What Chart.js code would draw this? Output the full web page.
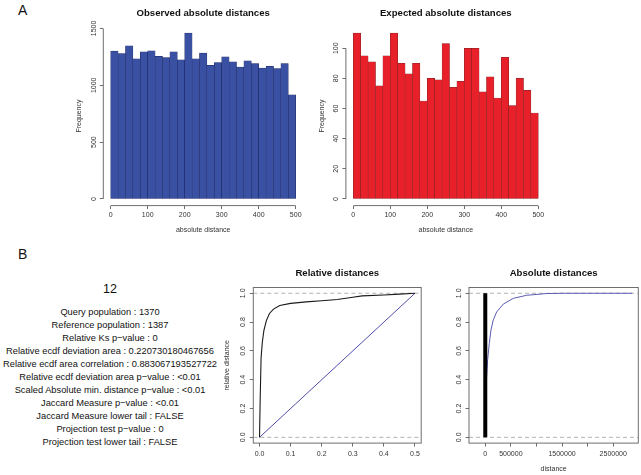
<!DOCTYPE html>
<html>
<head>
<meta charset="utf-8">
<script src="https://cdn.jsdelivr.net/npm/chart.js@4"></script>
<style>
  body { margin: 0; background: #fff; font-family: "Liberation Sans", Arial, Helvetica, sans-serif; }
  #page { position: relative; width: 641px; height: 475px; overflow: hidden; }
  canvas { position: absolute; }
  .tag { position: absolute; font-size: 14px; line-height: 14px; color: #111; }
  #num { position: absolute; left: 0; top: 283px; width: 220px; text-align: center; font-size: 12.5px; line-height: 12.5px; color: #111; }
  #stats { position: absolute; left: 0; top: 306px; width: 220px; text-align: center; font-size: 9.3px; line-height: 13px; color: #111; white-space: nowrap; }
</style>
</head>
<body>
<div id="page">
  <div class="tag" style="left:18px;top:3px">A</div>
  <div class="tag" style="left:18px;top:247px">B</div>
  <div id="num"></div>
  <div id="stats"></div>
  <canvas id="obsChart" width="260" height="240" style="left:60px;top:0px"></canvas>
  <canvas id="expChart" width="260" height="240" style="left:310px;top:0px"></canvas>
  <canvas id="relChart" width="215" height="220" style="left:215px;top:255px"></canvas>
  <canvas id="absChart" width="211" height="220" style="left:430px;top:255px"></canvas>
</div>
<script>
// ---- data ----
// histogram bins of absolute distance (width 20)
const binMids = [10, 30, 50, 70, 90, 110, 130, 150, 170, 190, 210, 230, 250, 270, 290, 310, 330, 350, 370, 390, 410, 430, 450, 470, 490];
const obsCounts = [1301, 1280, 1348, 1233, 1295, 1304, 1254, 1245, 1295, 1225, 1459, 1233, 1283, 1175, 1201, 1251, 1207, 1160, 1216, 1192, 1151, 1166, 1148, 1192, 917];
const expCounts = [110, 95, 91, 75, 95, 110, 90, 83, 90, 65, 80, 79, 103, 74, 78, 100, 100, 71, 81, 67, 94, 62, 80, 72, 57];
const histXTicks = [0, 100, 200, 300, 400, 500];
const obsYTicks = [0, 500, 1000, 1500];
const expYTicks = [0, 20, 40, 60, 80, 100];

// relative distance ECDF (observed) and uniform reference
const relObsX = [0, 0.002, 0.005, 0.009, 0.014, 0.022, 0.032, 0.045, 0.065, 0.1, 0.15, 0.2, 0.25, 0.3, 0.33, 0.4, 0.45, 0.5];
const relObsY = [0, 0.25, 0.55, 0.66, 0.74, 0.81, 0.86, 0.89, 0.915, 0.93, 0.94, 0.948, 0.957, 0.972, 0.982, 0.988, 0.994, 1.0];
const relRefX = [0, 0.5];
const relRefY = [0, 1];
const relXTicks = [0, 0.1, 0.2, 0.3, 0.4, 0.5];
const cdfYTicks = [0, 0.2, 0.4, 0.6, 0.8, 1.0];

// absolute distance ECDFs
const absObsX = [0, 0];
const absObsY = [0, 1];
const absExpX = [0, 5000, 26000, 46000, 78000, 111000, 157000, 222000, 353000, 549000, 810000, 1200000, 1530000, 2870000];
const absExpY = [0, 0.3, 0.42, 0.54, 0.65, 0.745, 0.815, 0.87, 0.925, 0.965, 0.986, 0.998, 1.0, 1.0];
const absXTicks = [0, 500000, 1000000, 1500000, 2000000, 2500000];
const absXLabels = ['0', '500000', '', '1500000', '', '2500000'];

const cdfLevels = [0, 1];

const statsTitle = '12';
const statsLines = [
  'Query population : 1370',
  'Reference population : 1387',
  'Relative Ks p\u2212value : 0',
  'Relative ecdf deviation area : 0.220730180467656',
  'Relative ecdf area correlation : 0.883067193527722',
  'Relative ecdf deviation area p\u2212value : <0.01',
  'Scaled Absolute min. distance p\u2212value : <0.01',
  'Jaccard Measure p\u2212value : <0.01',
  'Jaccard Measure lower tail : FALSE',
  'Projection test p\u2212value : 0',
  'Projection test lower tail : FALSE'
];

// ---- stats text ----
document.getElementById('num').textContent = statsTitle;
statsLines.forEach(function (line) {
  const d = document.createElement('div');
  d.textContent = line;
  document.getElementById('stats').appendChild(d);
});

// ---- chart setup ----
const fontFamily = '"Liberation Sans", Arial, Helvetica, sans-serif';
Chart.defaults.font.family = fontFamily;
Chart.defaults.color = '#333';
Chart.defaults.animation = false;

const axisColor = '#6e6e6e';

// R-like axes: axis line only between first and last tick (or a full box),
// y tick labels written along the axis
const rAxes = {
  id: 'rAxes',
  afterDraw(chart, args, opts) {
    const { ctx, chartArea: a, scales } = chart;
    const xs = scales.x, ys = scales.y;
    ctx.save();
    ctx.strokeStyle = axisColor;
    ctx.lineWidth = 1;
    if (opts.box) {
      ctx.strokeRect(a.left, a.top, a.right - a.left, a.bottom - a.top);
    } else {
      const x0 = xs.getPixelForValue(xs.ticks[0].value);
      const x1 = xs.getPixelForValue(xs.ticks[xs.ticks.length - 1].value);
      const y0 = ys.getPixelForValue(ys.ticks[0].value);
      const y1 = ys.getPixelForValue(ys.ticks[ys.ticks.length - 1].value);
      ctx.beginPath();
      ctx.moveTo(x0, a.bottom);
      ctx.lineTo(x1, a.bottom);
      ctx.moveTo(a.left, y0);
      ctx.lineTo(a.left, y1);
      ctx.stroke();
    }
    ctx.fillStyle = '#333';
    ctx.font = '7px ' + fontFamily;
    ctx.textAlign = 'center';
    ctx.textBaseline = 'middle';
    ys.ticks.forEach(function (t) {
      ctx.save();
      ctx.translate(a.left - opts.labelGap, ys.getPixelForValue(t.value));
      ctx.rotate(-Math.PI / 2);
      ctx.fillText(t.label, 0, 0);
      ctx.restore();
    });
    ctx.restore();
  }
};

function setTicks(values) {
  return function (scale) {
    scale.ticks = values.map(function (v) { return { value: v }; });
  };
}

function fixWidth(w) {
  return function (scale) { scale.width = w; };
}

function fixHeight(h) {
  return function (scale) { scale.height = h; };
}

function xAxis(opts) {
  return {
    type: 'linear',
    min: opts.min,
    max: opts.max,
    offset: false,
    border: { display: false },
    grid: { display: true, offset: false, drawOnChartArea: false, drawTicks: true, tickLength: 3.5, color: axisColor },
    ticks: { autoSkip: false, maxRotation: 0, padding: opts.tickPad, font: { size: 7 }, color: '#333', callback: opts.label },
    title: opts.title
      ? { display: true, text: opts.title, font: { size: 7 }, color: '#333', padding: { top: 0, bottom: opts.titlePad } }
      : { display: false },
    afterBuildTicks: setTicks(opts.ticks),
    afterFit: fixHeight(opts.height)
  };
}

function yAxis(opts) {
  return {
    type: 'linear',
    min: opts.min,
    max: opts.max,
    border: { display: false },
    grid: { display: true, drawOnChartArea: false, drawTicks: true, tickLength: 3.5, color: axisColor },
    ticks: { display: false, callback: opts.label },
    title: opts.title
      ? { display: true, text: opts.title, font: { size: 7 }, color: '#333', padding: { top: opts.titlePad, bottom: 0 } }
      : { display: false },
    afterBuildTicks: setTicks(opts.ticks),
    afterFit: fixWidth(opts.width)
  };
}

function chartTitle(text, padTop, padBottom) {
  return {
    display: true,
    text: text,
    fullSize: false,
    color: '#111',
    font: { size: 9.6, weight: 'bold' },
    padding: { top: padTop, bottom: padBottom }
  };
}

function plainNum(v) { return String(v); }
function oneDec(v) { return Number(v).toFixed(1); }

function points(xs, ys) {
  return xs.map(function (x, i) { return { x: x, y: ys[i] }; });
}

function levelLines(xMin, xMax) {
  return cdfLevels.map(function (lvl) {
    return {
      data: [{ x: xMin, y: lvl }, { x: xMax, y: lvl }],
      showLine: true, pointRadius: 0, borderColor: '#b3b3b3', borderWidth: 1, borderDash: [4, 3]
    };
  });
}

// Histogram panel
function histChart(id, counts, fill, edge, title, yTicks, yMax, layout) {
  new Chart(document.getElementById(id), {
    type: 'bar',
    data: {
      datasets: [{
        data: points(binMids, counts),
        backgroundColor: fill,
        borderColor: edge,
        borderWidth: 0.5,
        borderSkipped: false,
        barPercentage: 1,
        categoryPercentage: 1
      }]
    },
    options: {
      responsive: false,
      layout: { padding: { left: 0, top: 0, right: layout.right, bottom: layout.bottom } },
      plugins: {
        legend: { display: false },
        tooltip: { enabled: false },
        title: chartTitle(title, 7.24, 7.74),
        rAxes: { box: false, labelGap: 9.5 }
      },
      scales: {
        x: xAxis({ min: -20, max: 520, ticks: histXTicks, label: plainNum, tickPad: 2, title: 'absolute distance', titlePad: 0.9, height: 30 }),
        y: yAxis({ min: -0.04 * yMax, max: 1.04 * yMax, ticks: yTicks, label: plainNum, title: 'Frequency', titlePad: layout.yTitlePad, width: layout.yWidth })
      }
    },
    plugins: [rAxes]
  });
}

histChart('obsChart', obsCounts, '#3a51a3', '#1d2660', 'Observed absolute distances', obsYTicks, 1459,
  { right: 16.9, bottom: 4.4, yWidth: 43.3, yTitlePad: 14.8 });
histChart('expChart', expCounts, '#e8202a', '#7c2424', 'Expected absolute distances', expYTicks, 110,
  { right: 24.3, bottom: 4.4, yWidth: 35.9, yTitlePad: 7.5 });

// Relative distances ECDF
new Chart(document.getElementById('relChart'), {
  type: 'scatter',
  data: {
    datasets: [
      { data: points(relObsX, relObsY), showLine: true, pointRadius: 0, borderColor: '#1a1a1a', borderWidth: 1.1 },
      { data: points(relRefX, relRefY), showLine: true, pointRadius: 0, borderColor: '#4d4daa', borderWidth: 1 }
    ].concat(levelLines(-0.02, 0.52))
  },
  options: {
    responsive: false,
    layout: { padding: { left: 0, top: 0, right: 8.8, bottom: 11.9 } },
    plugins: {
      legend: { display: false },
      tooltip: { enabled: false },
      title: chartTitle('Relative distances', 12.54, 8.44),
      rAxes: { box: true, labelGap: 10.5 }
    },
    scales: {
      x: xAxis({ min: -0.02, max: 0.52, ticks: relXTicks, label: oneDec, tickPad: 3, height: 20 }),
      y: yAxis({ min: -0.04, max: 1.04, ticks: cdfYTicks, label: oneDec, title: 'relative distance', titlePad: 8.3, width: 38.3 })
    }
  },
  plugins: [rAxes]
});

// Absolute distances ECDF
new Chart(document.getElementById('absChart'), {
  type: 'scatter',
  data: {
    datasets: [
      { data: points(absObsX, absObsY), showLine: true, pointRadius: 0, borderColor: '#000', borderWidth: 4 },
      { data: points(absExpX, absExpY), showLine: true, pointRadius: 0, borderColor: '#5b5bb3', borderWidth: 1 }
    ].concat(levelLines(-318000, 2990000))
  },
  options: {
    responsive: false,
    layout: { padding: { left: 0, top: 0, right: 2.7, bottom: 0.9 } },
    plugins: {
      legend: { display: false },
      tooltip: { enabled: false },
      title: chartTitle('Absolute distances', 12.54, 8.44),
      rAxes: { box: true, labelGap: 10 }
    },
    scales: {
      x: xAxis({ min: -318000, max: 2990000, ticks: absXTicks, label: function (v, i) { return absXLabels[i]; }, tickPad: 3, title: 'distance', titlePad: 0.4, height: 31 }),
      y: yAxis({ min: -0.04, max: 1.04, ticks: cdfYTicks, label: oneDec, width: 39 })
    }
  },
  plugins: [rAxes]
});
</script>
</body>
</html>
